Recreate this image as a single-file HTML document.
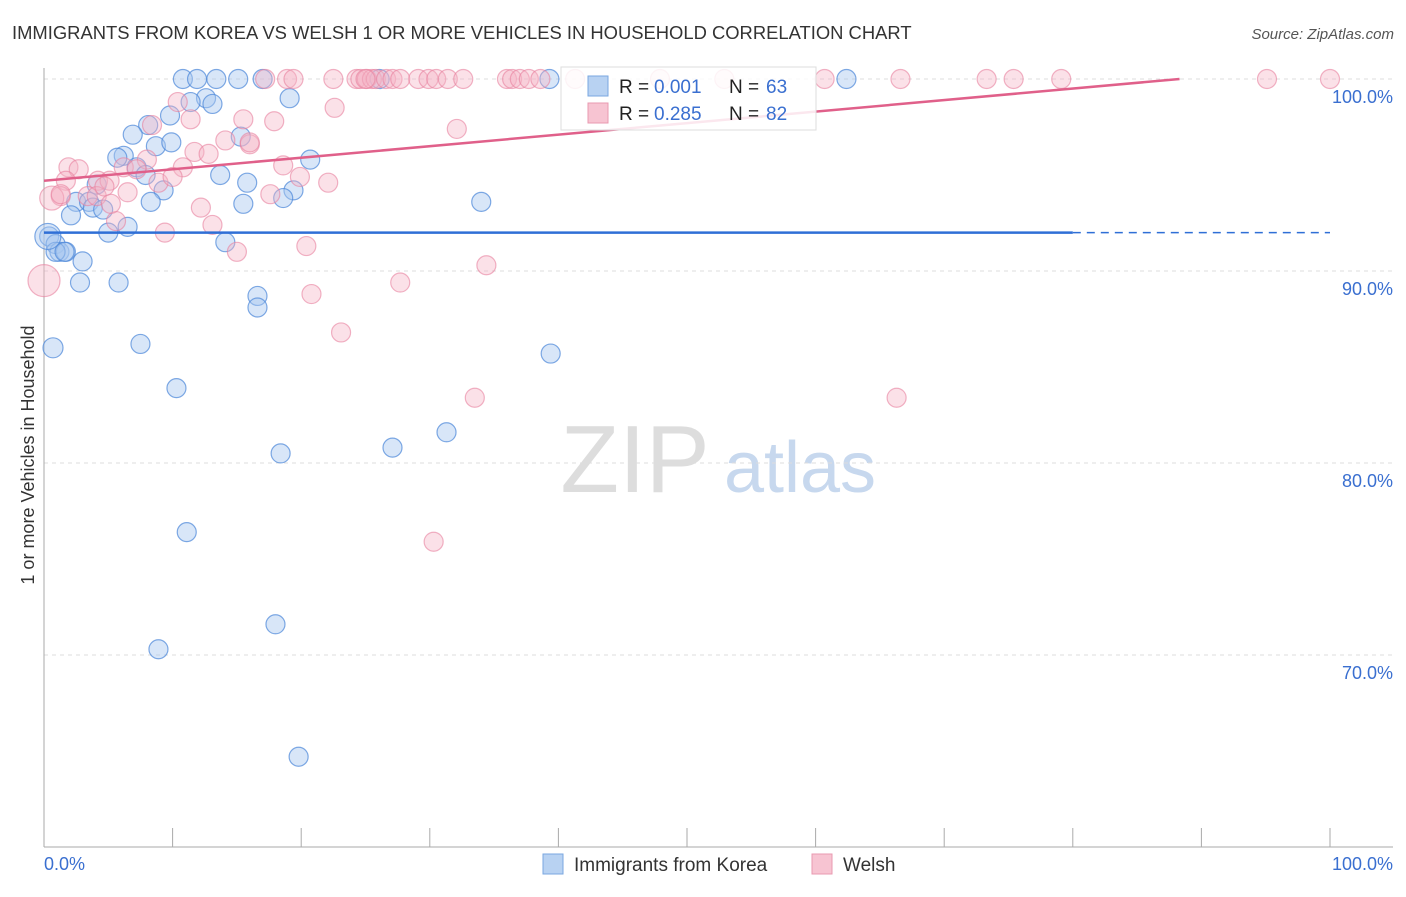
<!DOCTYPE html>
<html><head><meta charset="utf-8"><style>
body{margin:0;background:#fff;font-family:"Liberation Sans",sans-serif;}
svg text{font-family:"Liberation Sans",sans-serif;}
</style></head><body>
<svg id="chart" width="1406" height="892" xmlns="http://www.w3.org/2000/svg">
<text x="12" y="39" font-size="18.4" fill="#333">IMMIGRANTS FROM KOREA VS WELSH 1 OR MORE VEHICLES IN HOUSEHOLD CORRELATION CHART</text>
<text x="1394" y="39" font-size="15" fill="#555" text-anchor="end" font-style="italic">Source: ZipAtlas.com</text>
<text transform="translate(34,455) rotate(-90)" font-size="18" fill="#333" text-anchor="middle">1 or more Vehicles in Household</text>
<g>
<text x="635" y="492" font-size="96" fill="#ddd" text-anchor="middle" font-family="Liberation Serif">ZIP</text>
<text x="800" y="492" font-size="72" fill="#c7d8ee" text-anchor="middle">atlas</text>
</g>
<g id="grid"></g><g id="axes"></g><g id="pts"></g><g id="trend"></g>
<g>
<rect x="561" y="67" width="255" height="63" fill="#fff" fill-opacity="0.85" stroke="#ddd"/>
<rect x="588" y="76" width="20" height="20" fill="#b8d2f2" stroke="#7aa7e0"/>
<text x="619" y="93" font-size="19" fill="#222">R =</text>
<text x="654" y="93" font-size="19" fill="#3a6fd0">0.001</text>
<text x="729" y="93" font-size="19" fill="#222">N =</text>
<text x="766" y="93" font-size="19" fill="#3a6fd0">63</text>
<rect x="588" y="103" width="20" height="20" fill="#f7c4d2" stroke="#e89ab0"/>
<text x="619" y="120" font-size="19" fill="#222">R =</text>
<text x="654" y="120" font-size="19" fill="#3a6fd0">0.285</text>
<text x="729" y="120" font-size="19" fill="#222">N =</text>
<text x="766" y="120" font-size="19" fill="#3a6fd0">82</text>
</g>
<g>
<rect x="543" y="854" width="20" height="20" fill="#b8d2f2" stroke="#7aa7e0"/>
<text x="574" y="871" font-size="19" fill="#333">Immigrants from Korea</text>
<rect x="812" y="854" width="20" height="20" fill="#f7c4d2" stroke="#e89ab0"/>
<text x="843" y="871" font-size="19" fill="#333">Welsh</text>
</g>
</svg>
<script>
const yTicks=[100,90,80,70];
const yTickLabels=["100.0%","90.0%","80.0%","70.0%"];
const xTickLabels=["0.0%","100.0%"];
const koreaX=[10.8,11.9,13.4,15.1,17.0,26.1,39.3,62.4,12.6,19.1,13.1,11.4,9.8,8.1,6.9,15.3,8.7,9.9,6.2,5.7,20.7,7.2,7.9,13.7,15.8,4.1,9.3,19.4,8.3,15.5,18.6,34.0,2.5,3.5,3.8,4.6,2.1,6.5,5.0,14.1,0.4,0.9,1.2,1.7,0.9,3.0,2.8,5.8,16.6,16.6,0.7,7.5,39.4,10.3,31.3,27.1,18.4,11.1,18.0,8.9,19.8,1.6,0.3];
const koreaY=[100,100,100,100,100,100,100,100,99.0,99.0,98.7,98.8,98.1,97.6,97.1,97.0,96.5,96.7,96.0,95.9,95.8,95.4,95.0,95.0,94.6,94.5,94.2,94.2,93.6,93.5,93.8,93.6,93.6,93.6,93.3,93.2,92.9,92.3,92.0,91.5,91.8,91.4,91.0,91.0,91.0,90.5,89.4,89.4,88.7,88.1,86.0,86.2,85.7,83.9,81.6,80.8,80.5,76.4,71.6,70.3,64.7,91.0,91.8];
const koreaR=[9.5,9.5,9.5,9.5,9.5,9.5,9.5,9.5,9.5,9.5,9.5,9.5,9.5,9.5,9.5,9.5,9.5,9.5,9.5,9.5,9.5,9.5,9.5,9.5,9.5,9.5,9.5,9.5,9.5,9.5,9.5,9.5,9.5,9.5,9.5,9.5,9.5,9.5,9.5,9.5,9.5,9.5,9.5,9.5,9.5,9.5,9.5,9.5,9.5,9.5,10,9.5,9.5,9.5,9.5,9.5,9.5,9.5,9.5,9.5,9.5,9.5,13];
const welshX=[17.2,18.9,19.4,24.3,24.6,25.1,25.5,25.8,26.6,27.1,27.7,29.1,29.9,30.5,31.4,32.6,36.0,36.4,37.0,37.7,38.6,41.3,47.9,52.9,60.7,66.6,73.3,75.4,79.1,95.1,100,10.4,11.4,8.4,15.5,17.9,22.6,32.1,14.1,16.0,11.7,12.8,8.0,6.2,10.8,7.2,4.2,5.1,1.9,2.7,1.7,1.3,3.4,6.5,8.9,10.0,12.2,13.1,19.9,22.1,18.6,5.6,4.1,9.4,15.0,20.4,27.7,34.4,20.8,23.1,33.5,66.3,30.3,0.6,0,4.7,16.0,1.3,17.6,22.5,25.0,5.2];
const welshY=[100,100,100,100,100,100,100,100,100,100,100,100,100,100,100,100,100,100,100,100,100,100,100,100,100,100,100,100,100,100,100,98.8,97.9,97.6,97.9,97.8,98.5,97.4,96.8,96.6,96.2,96.1,95.8,95.4,95.4,95.3,94.7,94.7,95.4,95.3,94.7,93.9,93.9,94.1,94.6,94.9,93.3,92.4,94.9,94.6,95.5,92.6,93.9,92.0,91.0,91.3,89.4,90.3,88.8,86.8,83.4,83.4,75.9,93.8,89.5,94.4,96.7,94.0,94.0,100,100,93.5];
const welshR=[9.5,9.5,9.5,9.5,9.5,9.5,9.5,9.5,9.5,9.5,9.5,9.5,9.5,9.5,9.5,9.5,9.5,9.5,9.5,9.5,9.5,9.5,9.5,9.5,9.5,9.5,9.5,9.5,9.5,9.5,9.5,9.5,9.5,9.5,9.5,9.5,9.5,9.5,9.5,9.5,9.5,9.5,9.5,9.5,9.5,9.5,9.5,9.5,9.5,9.5,9.5,9.5,9.5,9.5,9.5,9.5,9.5,9.5,9.5,9.5,9.5,9.5,9.5,9.5,9.5,9.5,9.5,9.5,9.5,9.5,9.5,9.5,9.5,12,16,9.5,9.5,9.5,9.5,9.5,9.5,9.5];
const koreaTrend=[92.0,92.0];
const welshTrend=[94.7,100];
const X0=44,X1=1330,Y100=79,PX10=192;
const xs=v=>X0+(X1-X0)*v/100;
const ys=v=>Y100+(100-v)*PX10/10;
const NS="http://www.w3.org/2000/svg";
function mk(p,t,a){const e=document.createElementNS(NS,t);for(const k in a)e.setAttribute(k,a[k]);p.appendChild(e);return e;}
const grid=document.getElementById('grid'),axes=document.getElementById('axes'),pts=document.getElementById('pts'),tr=document.getElementById('trend');
yTicks.forEach((t,i)=>{
 const l=mk(grid,'line',{x1:44,x2:1393,y1:ys(t),y2:ys(t),stroke:'#ddd','stroke-dasharray':'4,4'});
 
 
 const tx=mk(axes,'text',{x:1393,y:ys(t)+24,'font-size':18,fill:'#3a6fd0','text-anchor':'end'});
 tx.textContent=yTickLabels[i];
 
 
});
let a=mk(axes,'line',{x1:44,x2:44,y1:68,y2:847,stroke:'#aaa'});


a=mk(axes,'line',{x1:44,x2:1393,y1:847,y2:847,stroke:'#aaa'});


for(let i=0;i<=10;i++){const t=mk(axes,'line',{x1:xs(i*10),x2:xs(i*10),y1:828,y2:847,stroke:'#aaa'});
 
 }
[[0,'start',44],[100,'end',1393]].forEach((d,i)=>{const t=mk(axes,'text',{x:d[2],y:870,'font-size':18,fill:'#3a6fd0','text-anchor':d[1]});t.textContent=xTickLabels[i];
 
 });
koreaX.forEach((x,i)=>{const c=mk(pts,'circle',{cx:xs(x),cy:ys(koreaY[i]),r:koreaR[i],fill:'#a9c8f0','fill-opacity':0.45,stroke:'#4a86d8','stroke-opacity':0.7,'stroke-width':1.2});
 
 });
welshX.forEach((x,i)=>{const c=mk(pts,'circle',{cx:xs(x),cy:ys(welshY[i]),r:welshR[i],fill:'#f5b3c6','fill-opacity':0.4,stroke:'#e8809f','stroke-opacity':0.6,'stroke-width':1.2});
 
 });
let t=mk(tr,'line',{x1:xs(0),y1:ys(koreaTrend[0]),x2:xs(80),y2:ys(koreaTrend[0]+(koreaTrend[1]-koreaTrend[0])*0.8),stroke:'#2f6fd6','stroke-width':2.5});


t=mk(tr,'line',{x1:xs(80),y1:ys(koreaTrend[0]+(koreaTrend[1]-koreaTrend[0])*0.8),x2:xs(100),y2:ys(koreaTrend[1]),stroke:'#2f6fd6','stroke-width':1.5,'stroke-dasharray':'8,6'});


const wEnd=88.3;
t=mk(tr,'line',{x1:xs(0),y1:ys(welshTrend[0]),x2:xs(wEnd),y2:ys(welshTrend[1]),stroke:'#e0608a','stroke-width':2.5});


</script>
</body></html>
